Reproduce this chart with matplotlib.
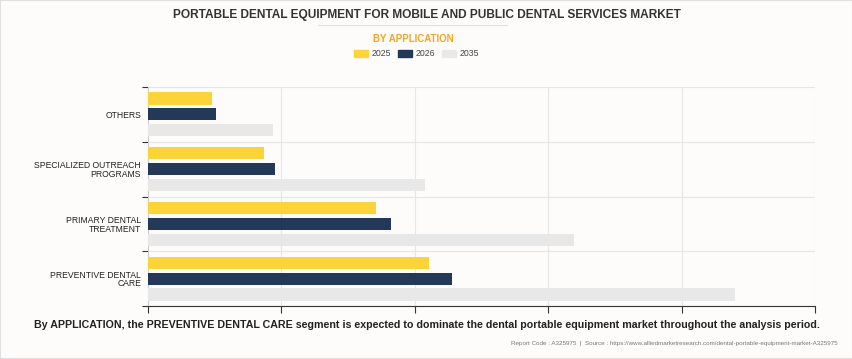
import matplotlib.pyplot as plt
import numpy as np
from matplotlib.patches import Rectangle
from matplotlib.lines import Line2D

# Data (bottom to top, as drawn)
categories = ['PREVENTIVE DENTAL\nCARE', 'PRIMARY DENTAL\nTREATMENT',
              'SPECIALIZED OUTREACH\nPROGRAMS', 'OTHERS']
years = ['2025', '2026', '2035']
values_2025 = [2.11, 1.71, 0.87, 0.48]
values_2026 = [2.28, 1.82, 0.95, 0.51]
values_2035 = [4.40, 3.19, 2.08, 0.94]
colors = ['#FDD33A', '#243858', '#E8E8E8']

bg = '#FDFCFB'
fig = plt.figure(figsize=(8.53, 3.59), dpi=100, facecolor=bg)
plt.rcParams['font.family'] = ['Liberation Sans', 'DejaVu Sans']

ax = fig.add_axes([0.1735, 0.1476, 0.782, 0.610])
ax.set_facecolor(bg)

y = np.arange(len(categories))
h = 0.22
off = 0.29
ax.barh(y + off, values_2025, height=h, color=colors[0], label=years[0], zorder=3)
ax.barh(y, values_2026, height=h, color=colors[1], label=years[1], zorder=3)
ax.barh(y - off, values_2035, height=h, color=colors[2], label=years[2], zorder=3)

ax.set_xlim(0, 5)
ax.set_ylim(-0.5, 3.5)
ax.set_xticks(np.arange(0, 6))
ax.set_xticklabels([])
ax.set_yticks(np.arange(-0.5, 4, 1))
ax.set_yticklabels([])
ax.set_yticks(y, minor=True)
ax.set_yticklabels(categories, minor=True, fontsize=6.2, color='#222222',
                   linespacing=0.95)
ax.tick_params(axis='y', which='minor', length=0, pad=5)
ax.tick_params(axis='y', which='major', length=4, color='#333333', width=0.8)
ax.tick_params(axis='x', length=5, color='#333333', width=0.8)
for lbl in ax.get_yticklabels(minor=True):
    lbl.set_horizontalalignment('right')

ax.grid(True, which='major', color='#E6E6E6', linewidth=0.8, zorder=0)
for s in ['top', 'right']:
    ax.spines[s].set_visible(False)
ax.spines['left'].set_color('#CCCCCC')
ax.spines['bottom'].set_color('#333333')
ax.spines['bottom'].set_linewidth(0.8)

# titles
fig.text(0.5, 0.958, 'PORTABLE DENTAL EQUIPMENT FOR MOBILE AND PUBLIC DENTAL SERVICES MARKET',
         ha='center', va='center', fontsize=8.6, fontweight='heavy', color='#333333')
fig.add_artist(Line2D([318 / 853, 507 / 853], [1 - 25 / 359, 1 - 25 / 359],
                      color='#E0E0E0', linewidth=0.8))
fig.text(0.485, 1 - 39 / 359, 'BY APPLICATION', ha='center', va='center',
         fontsize=7, fontweight='bold', color='#F5A623')

handles = [Rectangle((0, 0), 1, 1, color=c) for c in colors]
fig.legend(handles, years, loc='center', bbox_to_anchor=(0.488, 1 - 54 / 359),
           ncol=3, frameon=False, fontsize=6.3, handlelength=1.6, handleheight=0.9,
           columnspacing=0.8, handletextpad=0.4, labelcolor='#444444')

fig.text(0.5, 1 - 325 / 359,
         'By APPLICATION, the PREVENTIVE DENTAL CARE segment is expected to dominate '
         'the dental portable equipment market throughout the analysis period.',
         ha='center', va='center', fontsize=7.7, fontweight='bold', color='#222222')
fig.text(838 / 853, 1 - 343 / 359,
         'Report Code : A325975  |  Source : https://www.alliedmarketresearch.com/dental-portable-equipment-market-A325975',
         ha='right', va='center', fontsize=4.5, color='#777777')

fig.add_artist(Rectangle((0, 0), 1, 1, transform=fig.transFigure, fill=False,
                         edgecolor='#E0E0E0', linewidth=1.5))

fig.savefig('out.png', dpi=100, facecolor=bg)
